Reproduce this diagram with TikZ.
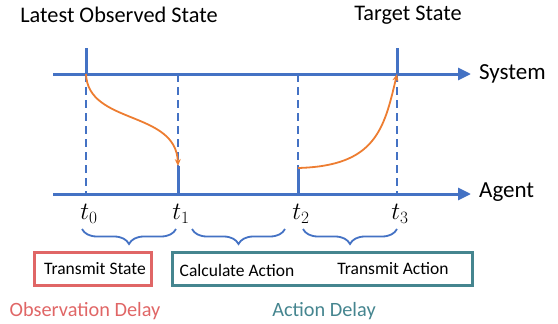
\documentclass[tikz,border=0pt]{standalone}
\usepackage{fontspec}
\setmainfont{Carlito}
\usetikzlibrary{arrows.meta,decorations.pathreplacing}
\definecolor{axblue}{HTML}{4472C4}
\definecolor{curveor}{HTML}{ED7D31}
\definecolor{boxred}{HTML}{E06666}
\definecolor{boxteal}{HTML}{45858F}
\tikzset{
  axis/.style={draw=axblue,line width=3pt,-{Triangle[length=13pt,width=12pt]}},
  tick/.style={draw=axblue,line width=3pt},
  guide/.style={draw=axblue,line width=1.8pt,dash pattern=on 8pt off 5pt},
  flow/.style={draw=curveor,line width=1.8pt,-{Stealth[length=7pt,width=6pt]}},
  brc/.style={draw=axblue,line width=1.8pt,decorate,decoration={brace,mirror,amplitude=15pt}},
  lbl/.style={font=\fontsize{22.3}{26}\selectfont,inner sep=0pt},
  axlbl/.style={font=\fontsize{23}{26}\selectfont,inner sep=0pt},
  dlbl/.style={font=\fontsize{20.3}{24}\selectfont,inner sep=0pt},
  tlbl/.style={font=\fontsize{24}{26}\selectfont,inner sep=0pt},
  boxtxt/.style={font=\fontsize{17.5}{20}\selectfont,inner sep=0pt},
}
\begin{document}
\begin{tikzpicture}[x=1pt,y=-1pt]
\useasboundingbox (0,0) rectangle (558,324);
% axes
\coordinate (sysL) at (53,74);
\coordinate (sysR) at (471,74);
\coordinate (agL) at (53,194);
\coordinate (agR) at (471,194);
\draw[axis] (sysL) -- (sysR);
\draw[axis] (agL) -- (agR);
\node[axlbl,anchor=west] (sys) at (479,74) {System};
\node[axlbl,anchor=west] (ag) at (479,192) {Agent};
% time points
\coordinate (s0) at (86,74); \coordinate (a0) at (86,194);
\coordinate (s1) at (178,74); \coordinate (a1) at (178,194);
\coordinate (s2) at (298,74); \coordinate (a2) at (298,194);
\coordinate (s3) at (397,74); \coordinate (a3) at (397,194);
\coordinate (top0) at (86,48);
\coordinate (top3) at (397,48);
\coordinate (m1) at (178,166);
\coordinate (m2) at (298,168);
% dashed guides
\draw[guide] (s0) -- (a0);
\draw[guide] (s1) -- (m1);
\draw[guide] (s2) -- (m2);
\draw[guide] (s3) -- (a3);
% solid ticks
\draw[tick] (top0) -- (s0);
\draw[tick] (top3) -- (s3);
\draw[tick] (m1) -- (a1);
\draw[tick] (m2) -- (a2);
% orange curves
\draw[flow] (s0) .. controls (88,125) and (176,110) .. (m1);
\draw[flow] (m2) .. controls (375,166) and (384,130) .. (s3);
% top labels
\node[lbl] (latest) at (119,15) {Latest Observed State};
\node[lbl] (target) at (408,15) {Target State};
% t labels
\node[tlbl] (t0) at (89,214) {$t_0$};
\node[tlbl] (t1) at (181,214) {$t_1$};
\node[tlbl] (t2) at (301,214) {$t_2$};
\node[tlbl] (t3) at (400,214) {$t_3$};
% braces
\coordinate (b1a) at (82,229); \coordinate (b1b) at (176,229);
\coordinate (b2a) at (192,229); \coordinate (b2b) at (285,229);
\coordinate (b3a) at (303,229); \coordinate (b3b) at (397,229);
\draw[brc] (b1a) -- (b1b);
\draw[brc] (b2a) -- (b2b);
\draw[brc] (b3a) -- (b3b);
% boxes
\node[draw=boxred,line width=2.6pt,minimum width=117pt,minimum height=33pt,inner sep=0pt] (obsbox) at (93,269) {};
\node[boxtxt] (trs) at (95,269) {Transmit State};
\node[draw=boxteal,line width=2.6pt,minimum width=300pt,minimum height=33pt,inner sep=0pt] (actbox) at (322.5,269) {};
\node[boxtxt] (calc) at (237,270) {Calculate Action};
\node[boxtxt] (tra) at (393,269) {Transmit Action};
% bottom labels
\node[dlbl,text=boxred] (obs) at (85,311) {Observation Delay};
\node[dlbl,text=boxteal] (act) at (324,311) {Action Delay};
\end{tikzpicture}
\end{document}
